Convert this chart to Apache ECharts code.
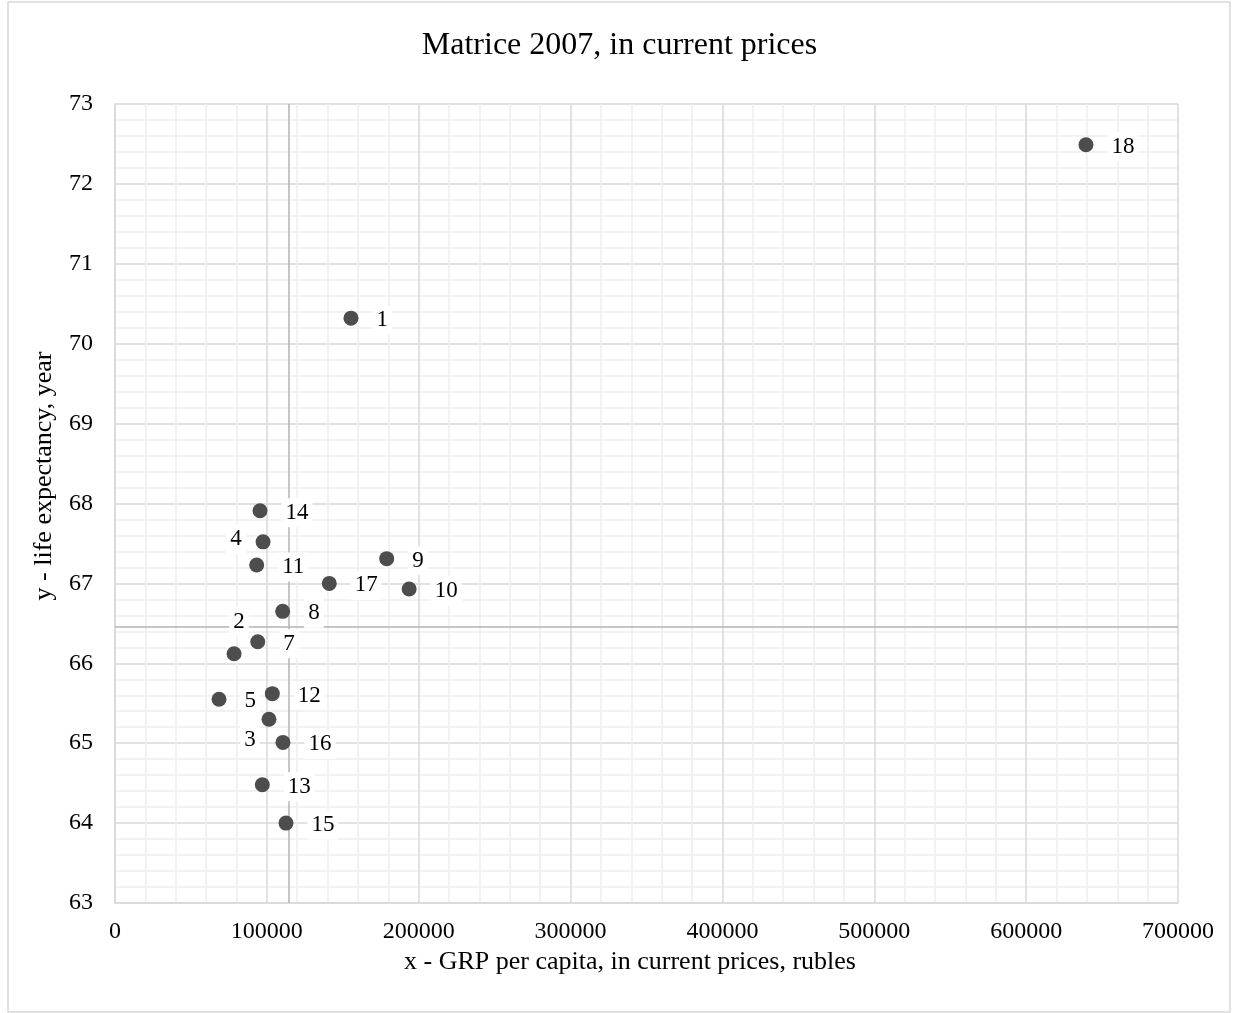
<!DOCTYPE html>
<html>
<head>
<meta charset="utf-8">
<script src="https://cdn.jsdelivr.net/npm/echarts@6/dist/echarts.min.js"></script>
<style>
html,body{margin:0;padding:0;background:#fff;}
#chart{width:1239px;height:1013px;}
</style>
</head>
<body>
<div id="chart"></div>
<script>
// Data
const pointNames = ['1','2','3','4','5','7','8','9','10','11','12','13','14','15','16','17','18'];
const grpPerCapita = [155400, 78400, 101400, 97500, 68500, 94000, 110400, 178900, 193700, 93300, 103600, 97000, 95500, 112600, 110600, 141100, 639400];
const lifeExpectancy = [70.32, 66.12, 65.30, 67.52, 65.55, 66.27, 66.65, 67.31, 66.93, 67.23, 65.62, 64.48, 67.91, 64.00, 65.01, 67.00, 72.49];
const xReference = 114500;
const yReference = 66.46;
const xTicks = [0, 100000, 200000, 300000, 400000, 500000, 600000, 700000];
const yTicks = [63, 64, 65, 66, 67, 68, 69, 70, 71, 72, 73];

const serif = '"Liberation Serif", "Times New Roman", serif';

// label placement overrides (styling only)
const labelOverrides = {
  '4': { position: 'inside', offset: [-27, -3] },
  '2': { position: 'inside', offset: [5, -32] },
  '3': { position: 'inside', offset: [-19, 21] }
};

const seriesData = pointNames.map((n, i) => {
  const item = { name: n, value: [grpPerCapita[i], lifeExpectancy[i]] };
  if (labelOverrides[n]) item.label = labelOverrides[n];
  return item;
});

const chart = echarts.init(document.getElementById('chart'), null, { renderer: 'canvas' });
chart.setOption({
  animation: false,
  backgroundColor: '#fff',
  textStyle: { fontFamily: serif },
  title: {
    text: 'Matrice 2007, in current prices',
    left: 'center',
    top: 25,
    textStyle: { fontFamily: serif, fontSize: 32, fontWeight: 'normal', color: '#000' }
  },
  graphic: [
    { type: 'rect', silent: true, z: -1,
      shape: { x: 8, y: 2, width: 1222, height: 1010 },
      style: { fill: 'none', stroke: '#d9d9d9', lineWidth: 1.5 } },
    { type: 'text', silent: true,
      x: 630, y: 962,
      style: { text: 'x - GRP per capita, in current prices, rubles', font: '26px ' + serif, fill: '#000', align: 'center', verticalAlign: 'middle' } },
    { type: 'text', silent: true,
      x: 44, y: 476, rotation: Math.PI / 2,
      style: { text: 'y - life expectancy, year', font: '26px ' + serif, fill: '#000', align: 'center', verticalAlign: 'middle' } }
  ],
  grid: { left: 115, top: 104, right: 61, bottom: 110, containLabel: false, show: false },
  xAxis: {
    type: 'value', min: xTicks[0], max: xTicks[xTicks.length - 1], interval: 100000,
    axisLine: { show: true, lineStyle: { color: '#d9d9d9', width: 1.5 } },
    axisTick: { show: false },
    axisLabel: { color: '#000', fontSize: 24, fontFamily: serif, margin: 17, formatter: v => String(v) },
    splitLine: { show: true, lineStyle: { color: '#d9d9d9', width: 1.5 } },
    minorTick: { show: false, splitNumber: 5 },
    minorSplitLine: { show: true, lineStyle: { color: '#eeeeee', width: 1.5 } }
  },
  yAxis: {
    type: 'value', min: yTicks[0], max: yTicks[yTicks.length - 1], interval: 1,
    axisLine: { show: true, lineStyle: { color: '#d9d9d9', width: 1.5 } },
    axisTick: { show: false },
    axisLabel: { color: '#000', fontSize: 24, fontFamily: serif, margin: 22, formatter: v => String(v) },
    splitLine: { show: true, lineStyle: { color: '#d9d9d9', width: 1.5 } },
    minorTick: { show: false, splitNumber: 5 },
    minorSplitLine: { show: true, lineStyle: { color: '#eeeeee', width: 1.5 } }
  },
  series: [{
    type: 'scatter',
    symbol: 'circle',
    symbolSize: 15,
    itemStyle: { color: '#4d4d4d', opacity: 1 },
    data: seriesData,
    label: {
      show: true,
      position: 'right',
      distance: 14,
      offset: [0, 2],
      formatter: p => p.name,
      fontFamily: serif,
      fontSize: 23,
      color: '#000',
      backgroundColor: '#fff',
      padding: [3, 4]
    },
    markLine: {
      silent: true,
      symbol: 'none',
      label: { show: false },
      lineStyle: { color: '#b3b3b3', width: 1.5, type: 'solid' },
      data: [ { xAxis: xReference }, { yAxis: yReference } ],
      z: 1
    }
  }]
});
</script>
</body>
</html>
